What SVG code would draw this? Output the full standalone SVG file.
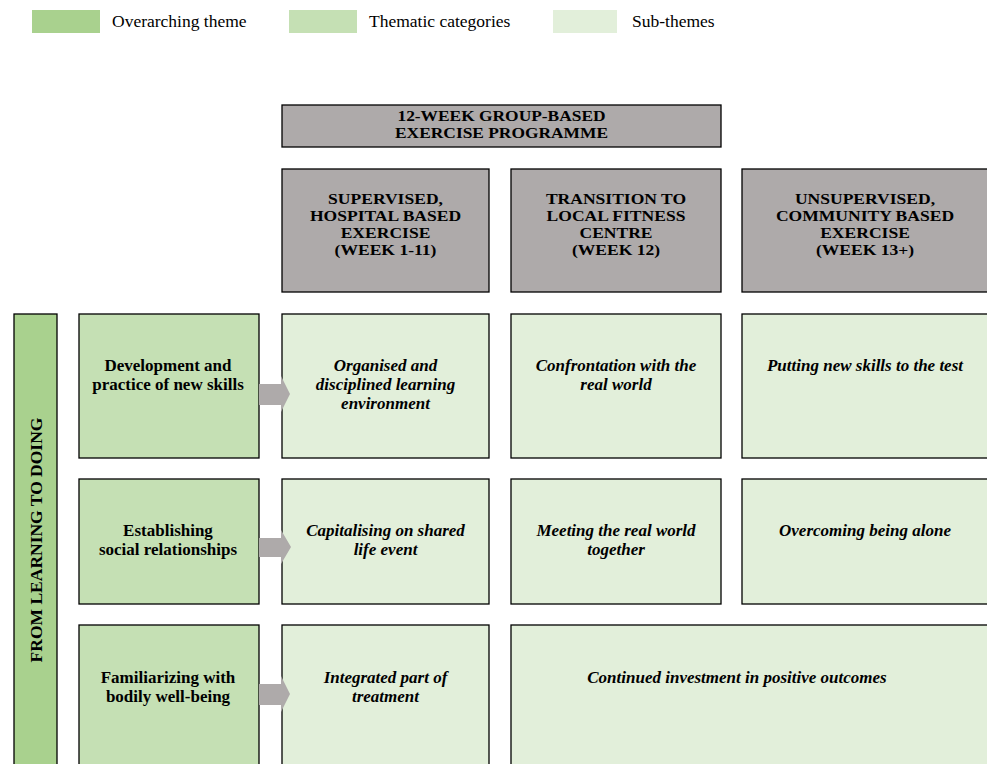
<svg xmlns="http://www.w3.org/2000/svg" width="987" height="764" viewBox="0 0 987 764">
<style>
text{font-family:"Liberation Serif","Times New Roman",serif;font-size:17px;fill:#000;text-anchor:middle}
.lg{text-anchor:start;font-size:17.5px}
.b{font-weight:bold}
.bi{font-weight:bold;font-style:italic}
.h{font-weight:bold;font-size:15px}
.box{stroke:#000;stroke-width:1.3}
.gray{fill:#aeaaaa}
.ov{fill:#a9d18e}
.th{fill:#c5e0b4}
.sub{fill:#e2efda}
.arr{fill:#aeaaaa;stroke:none}
</style>
<rect width="987" height="764" fill="#fff"/>
<g id="legend">
<rect x="32" y="10" width="68" height="23" class="ov"/>
<text x="112" y="27" class="lg">Overarching theme</text>
<rect x="289" y="10" width="68" height="23" class="th"/>
<text x="369" y="27" class="lg">Thematic categories</text>
<rect x="553" y="10" width="64" height="23" class="sub"/>
<text x="632" y="27" class="lg">Sub-themes</text>
</g>
<g id="programme">
<rect x="282" y="105" width="439" height="42" class="box gray"/>
<g transform="matrix(1.2,0,0,1,501.5,0)">
<text x="0" y="121.5" class="h" style="font-size:14.5px">12-WEEK GROUP-BASED</text>
<text x="0" y="137.8" class="h" style="font-size:14.5px">EXERCISE PROGRAMME</text>
</g>
</g>
<g id="phase1">
<rect x="282" y="169" width="207" height="123" class="box gray"/>
<g transform="matrix(1.17,0,0,1,385.5,0)">
<text class="h" x="0" y="204">SUPERVISED,</text>
<text class="h" x="0" y="221">HOSPITAL BASED</text>
<text class="h" x="0" y="238">EXERCISE</text>
<text class="h" x="0" y="255">(WEEK 1-11)</text>
</g>
</g>
<g id="phase2">
<rect x="511" y="169" width="210" height="123" class="box gray"/>
<g transform="matrix(1.17,0,0,1,616,0)">
<text class="h" x="0" y="204">TRANSITION TO</text>
<text class="h" x="0" y="221">LOCAL FITNESS</text>
<text class="h" x="0" y="238">CENTRE</text>
<text class="h" x="0" y="255">(WEEK 12)</text>
</g>
</g>
<g id="phase3">
<rect x="742" y="169" width="247" height="123" class="box gray"/>
<g transform="matrix(1.17,0,0,1,865,0)">
<text class="h" x="0" y="204">UNSUPERVISED,</text>
<text class="h" x="0" y="221">COMMUNITY BASED</text>
<text class="h" x="0" y="238">EXERCISE</text>
<text class="h" x="0" y="255">(WEEK 13+)</text>
</g>
</g>
<g id="overarching">
<rect x="14" y="314" width="43" height="460" class="box ov"/>
<text class="b" style="font-size:17.5px" transform="translate(42,540) rotate(-90)">FROM LEARNING TO DOING</text>
</g>
<g id="cat1">
<rect x="79" y="314" width="180" height="144" class="box th"/>
<text class="b" x="168" y="371">Development and</text>
<text class="b" x="168" y="390">practice of new skills</text>
</g>
<g id="cat2">
<rect x="79" y="479" width="180" height="125" class="box th"/>
<text class="b" x="168" y="536">Establishing</text>
<text class="b" x="168" y="555">social relationships</text>
</g>
<g id="cat3">
<rect x="79" y="625" width="180" height="150" class="box th"/>
<text class="b" x="168" y="683">Familiarizing with</text>
<text class="b" x="168" y="702">bodily well-being</text>
</g>
<g id="s11">
<rect x="282" y="314" width="207" height="144" class="box sub"/>
<text class="bi" x="385.5" y="371">Organised and</text>
<text class="bi" x="385.5" y="390">disciplined learning</text>
<text class="bi" x="385.5" y="409">environment</text>
</g>
<g id="s12">
<rect x="511" y="314" width="210" height="144" class="box sub"/>
<text class="bi" x="616" y="371">Confrontation with the</text>
<text class="bi" x="616" y="390">real world</text>
</g>
<g id="s13">
<rect x="742" y="314" width="247" height="144" class="box sub"/>
<text class="bi" x="865" y="371">Putting new skills to the test</text>
</g>
<g id="s21">
<rect x="282" y="479" width="207" height="125" class="box sub"/>
<text class="bi" x="385.5" y="536">Capitalising on shared</text>
<text class="bi" x="385.5" y="555">life event</text>
</g>
<g id="s22">
<rect x="511" y="479" width="210" height="125" class="box sub"/>
<text class="bi" x="616" y="536">Meeting the real world</text>
<text class="bi" x="616" y="555">together</text>
</g>
<g id="s23">
<rect x="742" y="479" width="247" height="125" class="box sub"/>
<text class="bi" x="865" y="536">Overcoming being alone</text>
</g>
<g id="s31">
<rect x="282" y="625" width="207" height="150" class="box sub"/>
<text class="bi" x="385.5" y="683">Integrated part of</text>
<text class="bi" x="385.5" y="702">treatment</text>
</g>
<g id="s32">
<rect x="511" y="625" width="478" height="150" class="box sub"/>
<text class="bi" x="737" y="683">Continued investment in positive outcomes</text>
</g>
<g id="connectors">
<polygon class="arr" points="259,384 281,384 281,376 290,394 281,412 281,405 259,405"/>
<polygon class="arr" points="259,538 281,538 281,530 291,547 281,564 281,557 259,557"/>
<polygon class="arr" points="259,684 281,684 281,676 290,694 281,712 281,705 259,705"/>
</g>
</svg>
